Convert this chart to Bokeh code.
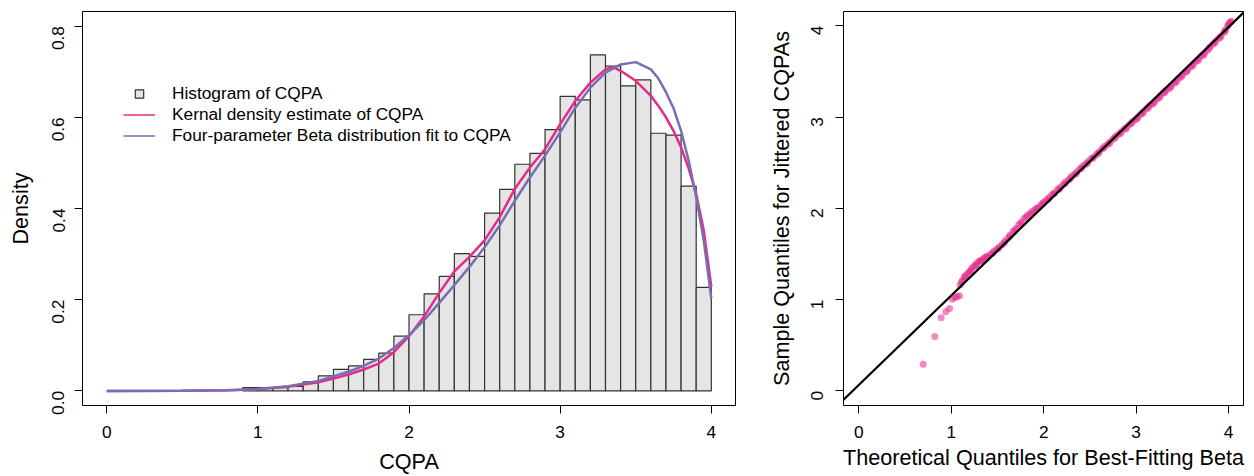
import math
from bokeh.plotting import figure
from bokeh.layouts import row
from bokeh.models import (Range1d, FixedTicker, Legend, LegendItem, Slope,
                          PrintfTickFormatter)
from bokeh.embed import file_html
from bokeh.resources import INLINE

# ---------------- data ----------------
bin_edges = [0.9, 1.0, 1.1, 1.2, 1.3, 1.4, 1.5, 1.6, 1.7, 1.8, 1.9, 2.0, 2.1,
             2.2, 2.3, 2.4, 2.5, 2.6, 2.7, 2.8, 2.9, 3.0, 3.1, 3.2, 3.3, 3.4,
             3.5, 3.6, 3.7, 3.8, 3.9, 4.0]
hist_density = [0.007, 0.007, 0.007, 0.010, 0.020, 0.033, 0.047, 0.055, 0.069,
                0.083, 0.120, 0.167, 0.213, 0.251, 0.301, 0.295, 0.390, 0.442,
                0.497, 0.521, 0.573, 0.646, 0.638, 0.737, 0.712, 0.669, 0.682,
                0.565, 0.561, 0.449, 0.227]

kde_x = [0.0, 0.5, 0.8, 1.0, 1.2, 1.4, 1.5, 1.6, 1.7, 1.8, 1.9, 2.0, 2.1, 2.2,
         2.3, 2.4, 2.5, 2.6, 2.7, 2.8, 2.9, 3.0, 3.1, 3.2, 3.3, 3.35, 3.4, 3.5,
         3.6, 3.65, 3.7, 3.75, 3.8, 3.85, 3.9, 3.95, 4.0]
kde_y = [0.000, 0.0003, 0.0015, 0.004, 0.009, 0.019, 0.027, 0.036, 0.047, 0.060,
         0.085, 0.120, 0.163, 0.215, 0.262, 0.294, 0.330, 0.381, 0.443, 0.490,
         0.530, 0.585, 0.636, 0.676, 0.705, 0.710, 0.702, 0.680, 0.647, 0.625,
         0.600, 0.570, 0.534, 0.488, 0.432, 0.352, 0.228]

beta_x = [0.0, 0.5, 0.8, 1.0, 1.2, 1.4, 1.6, 1.7, 1.8, 1.9, 2.0, 2.1, 2.2, 2.3,
          2.4, 2.5, 2.6, 2.7, 2.8, 2.9, 3.0, 3.1, 3.2, 3.3, 3.4, 3.5, 3.6, 3.65,
          3.7, 3.75, 3.8, 3.85, 3.9, 3.95, 4.0]
beta_y = [0.000, 0.0002, 0.0015, 0.004, 0.010, 0.022, 0.042, 0.055, 0.071, 0.094,
          0.122, 0.155, 0.193, 0.232, 0.272, 0.315, 0.363, 0.417, 0.468, 0.516,
          0.567, 0.621, 0.665, 0.698, 0.716, 0.721, 0.705, 0.685, 0.655, 0.620,
          0.570, 0.505, 0.425, 0.330, 0.203]

qq_theoretical = [0.696, 0.822, 0.891, 0.941, 0.981, 1.013, 1.042, 1.064, 1.089,
                  1.096, 1.11,
                  1.12, 1.14, 1.16, 1.18, 1.20, 1.22, 1.24, 1.26, 1.28, 1.30,
                  1.32, 1.34, 1.36, 1.38, 1.40, 1.43, 1.46, 1.49, 1.52, 1.55,
                  1.58, 1.61, 1.64, 1.67, 1.70, 1.73, 1.76, 1.79, 1.82, 1.85,
                  1.88, 1.91, 1.94, 1.97, 2.00, 2.03, 2.06, 2.09, 2.12, 2.15,
                  2.18, 2.21, 2.24, 2.27, 2.30, 2.33, 2.36, 2.39, 2.42, 2.45,
                  2.48, 2.51, 2.54, 2.57, 2.60, 2.63, 2.66, 2.69, 2.72, 2.75,
                  2.78, 2.81, 2.84, 2.87, 2.90, 2.93, 2.96, 2.99, 3.02, 3.05,
                  3.08, 3.11, 3.14, 3.17, 3.20, 3.23, 3.26, 3.29, 3.32, 3.35,
                  3.38, 3.41, 3.44, 3.47, 3.50, 3.53, 3.56, 3.59, 3.62, 3.65,
                  3.68, 3.71, 3.74, 3.77, 3.80, 3.83, 3.86, 3.89, 3.92, 3.95,
                  3.97, 3.99, 4.01, 4.02, 4.03,
                  1.15, 1.21, 1.27, 1.33, 1.39, 1.45, 1.51, 1.57, 1.63, 1.69,
                  1.75, 1.81, 1.87, 1.93, 1.99, 2.05, 2.11, 2.17, 2.23, 2.29,
                  2.35, 2.41, 2.47, 2.53, 2.59, 2.65, 2.71, 2.77, 2.83, 2.89,
                  2.95, 3.01, 3.07, 3.13, 3.19, 3.25, 3.31, 3.37, 3.43, 3.49,
                  3.55, 3.61, 3.67, 3.73, 3.79, 3.85, 3.91, 3.96, 4.00]
qq_sample = [0.292, 0.597, 0.801, 0.867, 0.903, 1.005, 1.024, 1.035, 1.042,
             1.16, 1.19,
             1.21, 1.25, 1.27, 1.29, 1.31, 1.34, 1.36, 1.38, 1.40, 1.42,
             1.43, 1.44, 1.46, 1.47, 1.48, 1.50, 1.53, 1.55, 1.58, 1.60,
             1.64, 1.67, 1.71, 1.75, 1.78, 1.82, 1.85, 1.89, 1.92, 1.94,
             1.97, 1.99, 2.01, 2.04, 2.07, 2.09, 2.12, 2.15, 2.17, 2.21,
             2.23, 2.26, 2.29, 2.31, 2.35, 2.37, 2.40, 2.43, 2.46, 2.48,
             2.51, 2.54, 2.56, 2.59, 2.62, 2.65, 2.68, 2.70, 2.73, 2.76,
             2.79, 2.81, 2.84, 2.87, 2.89, 2.92, 2.95, 2.97, 3.00, 3.03,
             3.06, 3.09, 3.12, 3.14, 3.17, 3.20, 3.23, 3.26, 3.29, 3.31,
             3.34, 3.37, 3.40, 3.43, 3.46, 3.49, 3.52, 3.55, 3.58, 3.61,
             3.64, 3.67, 3.70, 3.73, 3.77, 3.80, 3.83, 3.86, 3.89, 3.93,
             3.96, 4.00, 4.03, 4.04, 4.05,
             1.24, 1.31, 1.37, 1.42, 1.46, 1.51, 1.56, 1.62, 1.69, 1.76,
             1.83, 1.90, 1.95, 2.00, 2.05, 2.10, 2.16, 2.21, 2.27, 2.33,
             2.38, 2.44, 2.49, 2.55, 2.60, 2.66, 2.71, 2.77, 2.82, 2.87,
             2.93, 2.98, 3.04, 3.10, 3.15, 3.21, 3.27, 3.32, 3.38, 3.44,
             3.50, 3.56, 3.62, 3.68, 3.75, 3.81, 3.87, 3.94, 4.01]
qq_line_intercept = 0.065
qq_line_slope = 0.98

left_x_ticks = [0, 1, 2, 3, 4]
left_y_ticks = [0.0, 0.2, 0.4, 0.6, 0.8]
right_ticks = [0, 1, 2, 3, 4]

legend_labels = ["Histogram of CQPA",
                 "Kernal density estimate of CQPA",
                 "Four-parameter Beta distribution fit to CQPA"]

# ---------------- styling ----------------
FONT = "Liberation Sans"
PINK = "#E7298A"
PURPLE = "#7570B3"
HIST_FILL = "#E5E5E5"
HIST_LINE = "#333333"
TICK_SIZE = "17.3px"
LABEL_SIZE = "21.6px"
NAN = [float("nan")]


def style(p):
    p.grid.visible = False
    p.outline_line_color = "black"
    p.outline_line_width = 1
    p.outline_line_alpha = 1
    p.background_fill_color = "white"
    p.border_fill_color = "white"
    for ax in p.axis:
        ax.axis_line_color = None
        ax.major_tick_line_color = "black"
        ax.major_tick_line_width = 1
        ax.major_tick_out = 8
        ax.major_tick_in = 0
        ax.minor_tick_line_color = None
        ax.major_label_text_font = FONT
        ax.major_label_text_font_size = TICK_SIZE
        ax.major_label_text_color = "black"
        ax.axis_label_text_font = FONT
        ax.axis_label_text_font_size = LABEL_SIZE
        ax.axis_label_text_font_style = "normal"
        ax.axis_label_text_color = "black"
    p.yaxis.major_label_orientation = math.pi / 2


# ---------------- left panel: histogram + curves ----------------
p1 = figure(width=763, height=476, output_backend="svg", toolbar_location=None,
            x_range=Range1d(-0.16, 4.16), y_range=Range1d(-0.032, 0.832),
            min_border_left=82, min_border_right=28, min_border_top=11,
            min_border_bottom=70, x_axis_label="CQPA", y_axis_label="Density")
style(p1)
p1.xaxis.ticker = FixedTicker(ticks=left_x_ticks)
p1.yaxis.ticker = FixedTicker(ticks=left_y_ticks)
p1.yaxis.formatter = PrintfTickFormatter(format="%.1f")
p1.xaxis.major_label_standoff = 12
p1.xaxis.axis_label_standoff = 8
p1.yaxis.major_label_standoff = 16
p1.yaxis.axis_label_standoff = 11

p1.quad(left=bin_edges[:-1], right=bin_edges[1:], bottom=0, top=hist_density,
        fill_color=HIST_FILL, line_color=HIST_LINE, line_width=1.2)
p1.line(kde_x, kde_y, line_color=PINK, line_width=2.5)
p1.line(beta_x, beta_y, line_color=PURPLE, line_width=2.5)

# legend keys (styled like the R legend: small box and thin lines)
key_hist = p1.scatter(NAN, NAN, marker="square", fill_color=HIST_FILL,
                      line_color=HIST_LINE, line_width=1.2)
key_kde = p1.line(NAN, NAN, line_color=PINK, line_width=1.4)
key_beta = p1.line(NAN, NAN, line_color=PURPLE, line_width=1.4)

legend = Legend(items=[LegendItem(label=legend_labels[0], renderers=[key_hist]),
                       LegendItem(label=legend_labels[1], renderers=[key_kde]),
                       LegendItem(label=legend_labels[2], renderers=[key_beta])],
                location=(41, 259), orientation="vertical", padding=0, margin=0,
                spacing=0, glyph_width=32, glyph_height=21, label_height=21,
                label_standoff=17, label_text_font=FONT,
                label_text_font_size=TICK_SIZE, label_text_color="black",
                border_line_alpha=0, background_fill_alpha=0)
p1.add_layout(legend)

# ---------------- right panel: QQ plot ----------------
p2 = figure(width=483, height=476, output_backend="svg", toolbar_location=None,
            x_range=Range1d(-0.166, 4.162), y_range=Range1d(-0.16, 4.156),
            min_border_left=80, min_border_right=3, min_border_top=11,
            min_border_bottom=70,
            x_axis_label="Theoretical Quantiles for Best-Fitting Beta",
            y_axis_label="Sample Quantiles for Jittered CQPAs")
style(p2)
p2.xaxis.ticker = FixedTicker(ticks=right_ticks)
p2.yaxis.ticker = FixedTicker(ticks=right_ticks)
p2.xaxis.major_label_standoff = 12
p2.xaxis.axis_label_standoff = 4
p2.yaxis.major_label_standoff = 18
p2.yaxis.axis_label_standoff = 9

p2.scatter(qq_theoretical, qq_sample, size=7, fill_color=PINK, fill_alpha=0.55,
           line_color=None)
p2.add_layout(Slope(gradient=qq_line_slope, y_intercept=qq_line_intercept,
                    line_color="black", line_width=2.2))

layout = row(p1, p2)
open("out.html", "w").write(file_html(layout, INLINE))
